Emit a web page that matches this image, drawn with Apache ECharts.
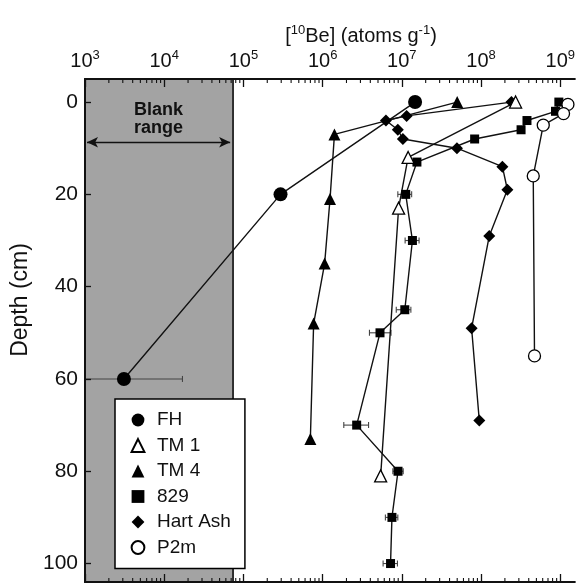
<!DOCTYPE html>
<html><head><meta charset="utf-8">
<script src="https://cdn.jsdelivr.net/npm/echarts@6/dist/echarts.min.js"></script>
<style>html,body{margin:0;padding:0;background:#fff}#c{width:578px;height:586px}</style>
</head><body><div id="c"></div>
<script>
// ---- axis ticks / labels ----
const xTickValues = [1e3, 1e4, 1e5, 1e6, 1e7, 1e8, 1e9];
const yTickValues = [0, 20, 40, 60, 80, 100];
const xMin = 1e3, xMax = 1.53e9, yMin = -5, yMax = 104;

// ---- blank range ----
const blankRange = [1e3, 7.4e4];
const blankArrow = [1.06e3, 6.8e4];
const blankArrowDepth = 8.7;

// ---- series data: [10Be] (atoms/g) vs depth (cm) ----
const fhDepth = [0, 20, 60];
const fhBe = [1.47e7, 2.94e5, 3.1e3];
const fhErrLow = [null, null, 5.5e2];
const fhErrHigh = [null, null, 1.7e4];

const tm1Depth = [0, 12, 23, 81];
const tm1Be = [2.73e8, 1.2e7, 9.1e6, 5.4e6];

const tm4Depth = [0, 7, 21, 35, 48, 73];
const tm4Be = [5.0e7, 1.41e6, 1.24e6, 1.06e6, 7.7e5, 7.0e5];

const s829Depth = [0, 2, 4, 6, 8, 13, 20, 30, 45, 50, 70, 80, 90, 100];
const s829Be = [9.6e8, 8.7e8, 3.8e8, 3.2e8, 8.3e7, 1.55e7, 1.12e7, 1.36e7, 1.09e7, 5.3e6, 2.69e6, 8.95e6, 7.5e6, 7.2e6];
const s829ErrLow = [null, null, null, null, null, null, 8.9e6, 1.1e7, 8.5e6, 3.9e6, 1.85e6, 7.7e6, 6.2e6, 5.8e6];
const s829ErrHigh = [null, null, null, null, null, null, 1.33e7, 1.65e7, 1.3e7, 7.3e6, 3.8e6, 1.04e7, 8.9e6, 8.8e6];

const hartDepth = [0, 3, 4, 6, 8, 10, 14, 19, 29, 49, 69];
const hartBe = [2.42e8, 1.15e7, 6.3e6, 8.9e6, 1.03e7, 4.96e7, 1.86e8, 2.15e8, 1.27e8, 7.6e7, 9.5e7];

const p2mDepth = [0.5, 2.5, 5, 16, 55];
const p2mBe = [1.25e9, 1.1e9, 6.1e8, 4.56e8, 4.73e8];

const legendNames = ['FH', 'TM 1', 'TM 4', '829', 'Hart Ash', 'P2m'];

// ---- minor ticks (log 2..9 per decade) ----
const minorTicks = [];
for (let d = 3; d <= 9; d++) for (let m = 2; m <= 9; m++) { const v = m * Math.pow(10, d); if (v <= xMax) minorTicks.push(v); }

const FONT = '"Liberation Sans", Arial, Helvetica, sans-serif';
const INK = '#111';

function pairs(be, depth) { return be.map((v, i) => [v, depth[i]]); }
function errData(low, high, depth) {
  const out = [];
  low.forEach((l, i) => { if (l != null) out.push([l, depth[i], high[i]]); });
  return out;
}

function lineSeries(name, be, depth, symbol, size, filled) {
  return {
    name, type: 'line', data: pairs(be, depth), xAxisIndex: 0, yAxisIndex: 0,
    symbol, symbolSize: size, showSymbol: true, showAllSymbol: true,
    lineStyle: { color: INK, width: 1.4 },
    itemStyle: filled ? { color: '#000', borderWidth: 0 } : { color: '#fff', borderColor: '#000', borderWidth: 1.3 },
    emphasis: { disabled: true }, animation: false, clip: false, z: 3
  };
}

function errSeries(name, low, high, depth) {
  return {
    name, type: 'custom', xAxisIndex: 0, yAxisIndex: 0, clip: true, silent: true, animation: false, z: 2,
    data: errData(low, high, depth),
    encode: { x: [0, 2], y: 1 },
    renderItem: function (params, api) {
      const p1 = api.coord([api.value(0), api.value(1)]);
      const p2 = api.coord([api.value(2), api.value(1)]);
      const c = 3;
      const st = { stroke: '#444', lineWidth: 1.1 };
      return { type: 'group', children: [
        { type: 'line', shape: { x1: p1[0], y1: p1[1], x2: p2[0], y2: p2[1] }, style: st },
        { type: 'line', shape: { x1: p1[0], y1: p1[1] - c, x2: p1[0], y2: p1[1] + c }, style: st },
        { type: 'line', shape: { x1: p2[0], y1: p2[1] - c, x2: p2[0], y2: p2[1] + c }, style: st }
      ]};
    }
  };
}

function xAxis(position, opts) {
  return Object.assign({
    type: 'log', logBase: 10, min: xMin, max: xMax, position, gridIndex: 0,
    splitLine: { show: false }, minorTick: { show: false }, minorSplitLine: { show: false }
  }, opts);
}

const chart = echarts.init(document.getElementById('c'), null, { renderer: 'canvas' });
chart.setOption({
  animation: false,
  backgroundColor: '#fff',
  textStyle: { fontFamily: FONT },
  title: {
    text: '[{s|10}Be] (atoms g{s|-1})',
    left: 356, top: 19, textAlign: 'center',
    textStyle: {
      fontFamily: FONT, fontSize: 20, fontWeight: 'normal', color: INK, lineHeight: 24,
      rich: { s: { fontFamily: FONT, fontSize: 13, color: INK, verticalAlign: 'top', lineHeight: 14 } }
    }
  },
  grid: { left: 85, top: 79, right: 0, bottom: 4, containLabel: false },
  xAxis: [
    xAxis('top', {
      axisLine: { show: true, onZero: false, lineStyle: { color: INK, width: 2 } },
      axisTick: { show: true, inside: true, length: 8, customValues: xTickValues, lineStyle: { color: INK, width: 1.3 } },
      axisLabel: {
        show: true, customValues: xTickValues, margin: 6, color: INK,
        formatter: v => '{b|10}{s|' + Math.round(Math.log10(v)) + '}',
        rich: {
          b: { fontFamily: FONT, fontSize: 20, color: INK, lineHeight: 24 },
          s: { fontFamily: FONT, fontSize: 13, color: INK, verticalAlign: 'top', lineHeight: 14 }
        }
      },
      z: 20
    }),
    xAxis('bottom', {
      axisLine: { show: true, onZero: false, lineStyle: { color: INK, width: 2 } },
      axisTick: { show: true, inside: true, length: 8, customValues: xTickValues, lineStyle: { color: INK, width: 1.3 } },
      axisLabel: { show: false },
      z: 20
    })
  ],
  yAxis: [{
    type: 'value', inverse: true, min: yMin, max: yMax, gridIndex: 0,
    name: 'Depth (cm)', nameLocation: 'middle', nameGap: 46, nameRotate: 90,
    nameTextStyle: { fontFamily: FONT, fontSize: 23, color: INK, padding: [0, 0, 0, 61] },
    axisLine: { show: true, onZero: false, lineStyle: { color: INK, width: 2 } },
    axisTick: { show: true, inside: true, length: 6, customValues: yTickValues, lineStyle: { color: INK, width: 1.3 } },
    axisLabel: { show: true, customValues: yTickValues, margin: 7, fontFamily: FONT, fontSize: 21, color: INK },
    splitLine: { show: false },
    z: 20
  }],
  legend: {
    data: legendNames, orient: 'vertical', left: 115, top: 399,
    padding: [11, 14, 11, 15], itemGap: 5.5, itemWidth: 16, itemHeight: 16,
    backgroundColor: '#fff', borderColor: '#000', borderWidth: 1.5, borderRadius: 0,
    selectedMode: false,
    lineStyle: { width: 0, opacity: 0 },
    textStyle: { fontFamily: FONT, fontSize: 19, color: INK, lineHeight: 20, padding: [0, 0, 0, 6] },
    z: 10
  },
  series: [
    {
      name: 'blank', type: 'line', data: [], xAxisIndex: 0, yAxisIndex: 0, silent: true, z: 1,
      markArea: {
        silent: true,
        itemStyle: { color: '#a3a3a3', borderColor: '#000', borderWidth: 1.5 },
        data: [[{ xAxis: blankRange[0] }, { xAxis: blankRange[1] }]]
      },
      markLine: {
        silent: true, symbol: ['arrow', 'arrow'], symbolSize: [8, 11], animation: false,
        lineStyle: { color: INK, width: 1.4, type: 'solid' },
        label: {
          show: true, position: 'middle', formatter: 'Blank\nrange', fontFamily: FONT,
          fontSize: 18, fontWeight: 'bold', color: INK, lineHeight: 18,
          backgroundColor: '#a3a3a3', padding: [0, 3]
        },
        emphasis: { disabled: true },
        data: [[{ coord: [blankArrow[0], blankArrowDepth] }, { coord: [blankArrow[1], blankArrowDepth] }]]
      }
    },
    {
      name: 'minor ticks', type: 'custom', xAxisIndex: 0, yAxisIndex: 0, clip: false, silent: true,
      animation: false, z: 15,
      data: minorTicks.map(v => [v]),
      encode: { x: 0 },
      renderItem: function (params, api) {
        const x = api.coord([api.value(0), 0])[0];
        const top = params.coordSys.y, bot = params.coordSys.y + params.coordSys.height;
        const st = { stroke: INK, lineWidth: 1.1 };
        return { type: 'group', children: [
          { type: 'line', shape: { x1: x, y1: top, x2: x, y2: top + 4 }, style: st },
          { type: 'line', shape: { x1: x, y1: bot, x2: x, y2: bot - 4 }, style: st }
        ]};
      }
    },
    errSeries('FH err', fhErrLow, fhErrHigh, fhDepth),
    errSeries('829 err', s829ErrLow, s829ErrHigh, s829Depth),
    lineSeries('FH', fhBe, fhDepth, 'circle', 14, true),
    lineSeries('TM 4', tm4Be, tm4Depth, 'triangle', 12, true),
    lineSeries('829', s829Be, s829Depth, 'rect', 9, true),
    lineSeries('Hart Ash', hartBe, hartDepth, 'diamond', 12, true),
    lineSeries('TM 1', tm1Be, tm1Depth, 'triangle', 12, false),
    lineSeries('P2m', p2mBe, p2mDepth, 'circle', 12, false)
  ]
});
</script>
</body></html>
